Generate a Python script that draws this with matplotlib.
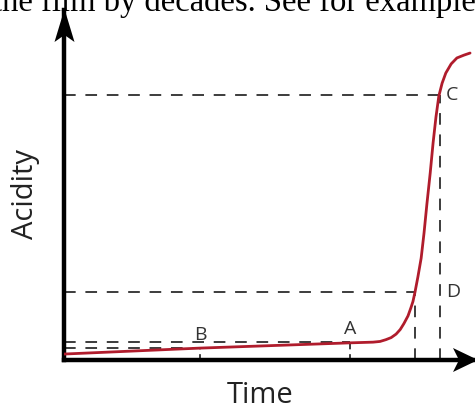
import numpy as np
import matplotlib
matplotlib.use('Agg')
from matplotlib import pyplot as plt
from matplotlib.patches import Polygon

# curve (time, acidity in arbitrary units, 0..10)
time = [0.0, 3.31, 6.96, 7.52, 7.69, 7.83, 7.96, 8.08, 8.18, 8.27, 8.37, 8.44,
        8.49, 8.54, 8.61, 8.69, 8.76, 8.83, 8.91, 8.98, 9.05, 9.12, 9.20,
        9.29, 9.42, 9.56, 9.73, 9.88]
acidity = [0.17, 0.34, 0.49, 0.51, 0.53, 0.58, 0.64, 0.74, 0.87, 1.04, 1.26, 1.49,
           1.67, 1.94, 2.37, 2.91, 3.63, 4.46, 5.34, 6.20, 6.94, 7.54, 7.91,
           8.20, 8.46, 8.63, 8.71, 8.77]

# marked points
ref_names = ['B', 'A', 'D', 'C']
ref_time = [3.31, 6.96, 8.54, 9.15]
ref_acid = [0.34, 0.51, 1.94, 7.57]

W, H = 475, 409
fig = plt.figure(figsize=(W / 100, H / 100), dpi=100)
fig.patch.set_facecolor('white')

# background layer in pixel units for the caption fragment and arrow heads
deco = fig.add_axes([0, 0, 1, 1])
deco.set_xlim(0, W)
deco.set_ylim(H, 0)
deco.axis('off')
deco.text(234, 11.5, 'the film by decades. See for example', ha='center', va='baseline',
          fontsize=23.5, family='Liberation Serif', color='black')
deco.add_patch(Polygon([(64.5, 9), (54.5, 42), (64.5, 35), (74.5, 42)], closed=True,
                       color='black', lw=0))
deco.add_patch(Polygon([(478, 360), (453, 348), (459, 360), (453, 372)], closed=True,
                       color='black', lw=0))
deco.text(25, 194, 'Acidity', rotation=90, ha='center', va='center',
          fontsize=21, family='Open Sans', color='#222222')
deco.text(260, 403, 'Time', ha='center', va='baseline',
          fontsize=21, family='Open Sans', color='#222222')

ax = fig.add_axes([64 / W, (H - 360) / H, (W - 64) / W, 350 / H])
ax.patch.set_alpha(0)
ax.set_xlim(0, 10)
ax.set_ylim(0, 10)
ax.set_xticks([])
ax.set_yticks([])
for s in ['top', 'right']:
    ax.spines[s].set_visible(False)
for s in ['left', 'bottom']:
    ax.spines[s].set_linewidth(3.2)
    ax.spines[s].set_capstyle('projecting')

dash = dict(color='#3c3c3c', lw=1.4, linestyle=(0, (6, 5)))
for name, t, a in zip(ref_names, ref_time, ref_acid):
    ax.plot([0, t], [a, a], **dash)
    if name in ('C', 'D'):
        ax.plot([t, t], [0, a], **dash)
    else:
        ax.plot([t, t], [0, a], color='#3c3c3c', lw=1.4, linestyle=(0, (3, 2.5)))

ax.plot(time, acidity, color='#b01c2c', lw=2.0, solid_capstyle='round', zorder=3)

lab = dict(fontsize=14, family='Open Sans', color='#333333')
for name, t, a in zip(ref_names, ref_time, ref_acid):
    if name in ('A', 'B'):
        ax.text(t, a + 0.12, name, ha='center', va='bottom', **lab)
    elif name == 'C':
        ax.text(t + 0.14, a, name, ha='left', va='center', **lab)
    else:
        ax.text(ref_time[3] + 0.14, a, name, ha='left', va='center', **lab)

fig.savefig('out.png', dpi=100, facecolor='white')
